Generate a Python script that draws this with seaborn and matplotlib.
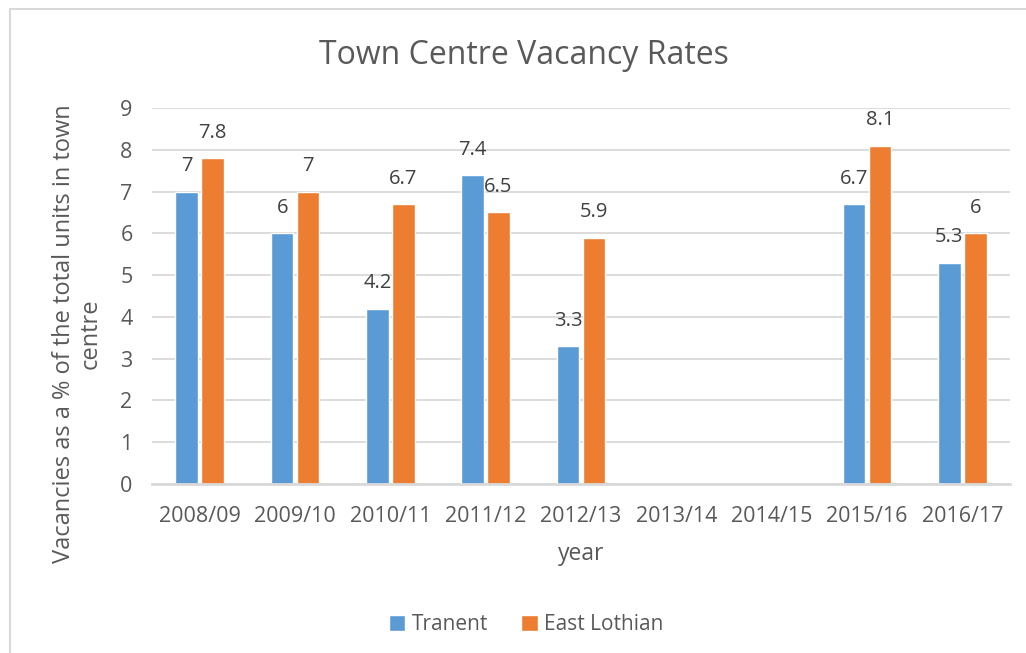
import numpy as np
import pandas as pd
import seaborn as sns
import matplotlib.pyplot as plt
from matplotlib.lines import Line2D

# data
years = ["2008/09", "2009/10", "2010/11", "2011/12", "2012/13",
         "2013/14", "2014/15", "2015/16", "2016/17"]
tranent = [7, 6, 4.2, 7.4, 3.3, np.nan, np.nan, 6.7, 5.3]
east_lothian = [7.8, 7, 6.7, 6.5, 5.9, np.nan, np.nan, 8.1, 6]
series = ["Tranent", "East Lothian"]
colours = ["#5B9BD5", "#ED7D31"]

df = pd.DataFrame({
    "year": years * 2,
    "value": tranent + east_lothian,
    "series": [series[0]] * len(years) + [series[1]] * len(years),
})

sns.set_style("white")
plt.rcParams["font.family"] = ["Open Sans", "DejaVu Sans"]
txt = "#595959"

fig = plt.figure(figsize=(10.26, 6.53), dpi=100)
ax = fig.add_axes([152 / 1026, 1 - 484 / 653, (1010 - 152) / 1026, (484 - 108) / 653])

sns.barplot(data=df, x="year", y="value", hue="series", order=years,
            hue_order=series, palette=colours, width=0.54, gap=0.12,
            saturation=1, ax=ax, legend=True)

for c in ax.containers:
    ax.bar_label(c, fmt="{:g}", padding=11, fontsize=14.5, color="#404040")

ax.set_ylim(0, 9)
ax.set_yticks(range(0, 10))
ax.grid(axis="y", color="#D9D9D9", linewidth=1.3)
ax.set_axisbelow(True)
for s in ["top", "right", "left"]:
    ax.spines[s].set_visible(False)
ax.spines["bottom"].set_color("#D9D9D9")
ax.spines["bottom"].set_linewidth(2)
ax.tick_params(axis="both", length=0, labelsize=15.5, labelcolor=txt)
ax.tick_params(axis="x", pad=16)
ax.tick_params(axis="y", pad=14)

ax.set_xlabel("year", fontsize=16.5, color=txt)
ax.xaxis.set_label_coords(0.5, -0.155)
ax.set_ylabel("Vacancies as a % of the total units in town\ncentre",
              fontsize=17, color=txt, linespacing=1.15)
ax.yaxis.set_label_coords(-0.057, 0.4)

fig.text(524 / 1026, 1 - 55 / 653, "Town Centre Vacancy Rates",
         ha="center", va="center", fontsize=23, color=txt)

handles, labels = ax.get_legend_handles_labels()
ax.legend(handles, labels, loc="center", bbox_to_anchor=(526 / 1026, 1 - 625 / 653),
          bbox_transform=fig.transFigure, ncol=2, frameon=False, fontsize=15,
          labelcolor=txt, handlelength=0.8, handleheight=0.8, handletextpad=0.3,
          columnspacing=1.6)

# chart border (partly cropped in the original)
fig.add_artist(Line2D([10 / 1026, 10 / 1026], [0, 1 - 9 / 653],
                      transform=fig.transFigure, color="#D9D9D9", lw=1.5))
fig.add_artist(Line2D([10 / 1026, 1], [1 - 9 / 653, 1 - 9 / 653],
                      transform=fig.transFigure, color="#D9D9D9", lw=1.5))

fig.savefig("out.png", dpi=100)
